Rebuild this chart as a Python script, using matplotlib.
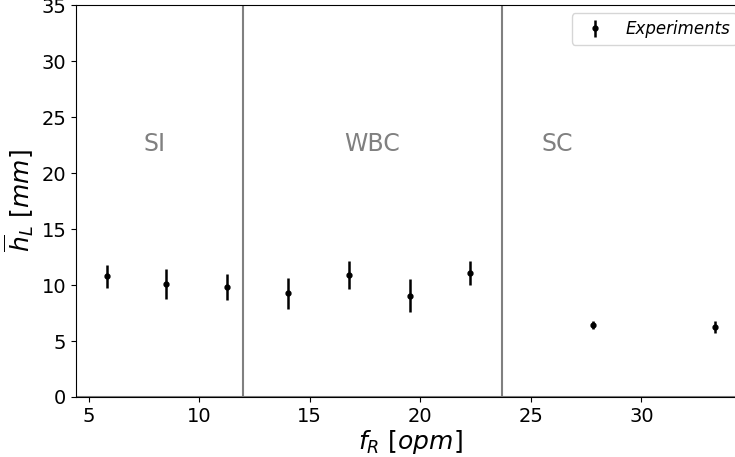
import matplotlib
matplotlib.use("Agg")
import matplotlib.pyplot as plt

f_R = [5.83, 8.52, 11.25, 14.0, 16.78, 19.53, 22.26, 27.8, 33.33]
h_L = [10.8, 10.1, 9.8, 9.25, 10.9, 9.05, 11.07, 6.43, 6.25]
h_err = [1.03, 1.36, 1.16, 1.41, 1.22, 1.5, 1.1, 0.4, 0.54]
boundaries = [12.0, 23.7]
regimes = ["SI", "WBC", "SC"]
regime_x = [8.0, 17.8, 26.2]
regime_y = 22

fig = plt.figure(figsize=(7.35, 4.57), dpi=100)
ax = fig.add_axes([0.1034, 0.1313, 0.91, 0.8577])

ax.errorbar(f_R, h_L, yerr=h_err, fmt='o', color='black', markersize=3.5,
            elinewidth=1.8, label='Experiments')
for b in boundaries:
    ax.axvline(b, color='gray', lw=1.5)
ax.axhline(0, color='gray', lw=1.5)
for name, x in zip(regimes, regime_x):
    ax.text(x, regime_y, name, color='gray', fontsize=17, ha='center', va='baseline')

ax.set_xlim(4.43, 34.68)
ax.set_ylim(0, 35)
ax.set_xticks([5, 10, 15, 20, 25, 30])
ax.set_yticks([0, 5, 10, 15, 20, 25, 30, 35])
ax.tick_params(labelsize=14)
ax.set_xlabel(r'$f_R\ [opm]$', fontsize=18, labelpad=2)
ax.set_ylabel(r'$\overline{h}_L\ [mm]$', fontsize=18, labelpad=4)
leg = ax.legend(loc='upper right', prop={'style': 'italic', 'size': 12})

fig.savefig('out.png', dpi=100)
